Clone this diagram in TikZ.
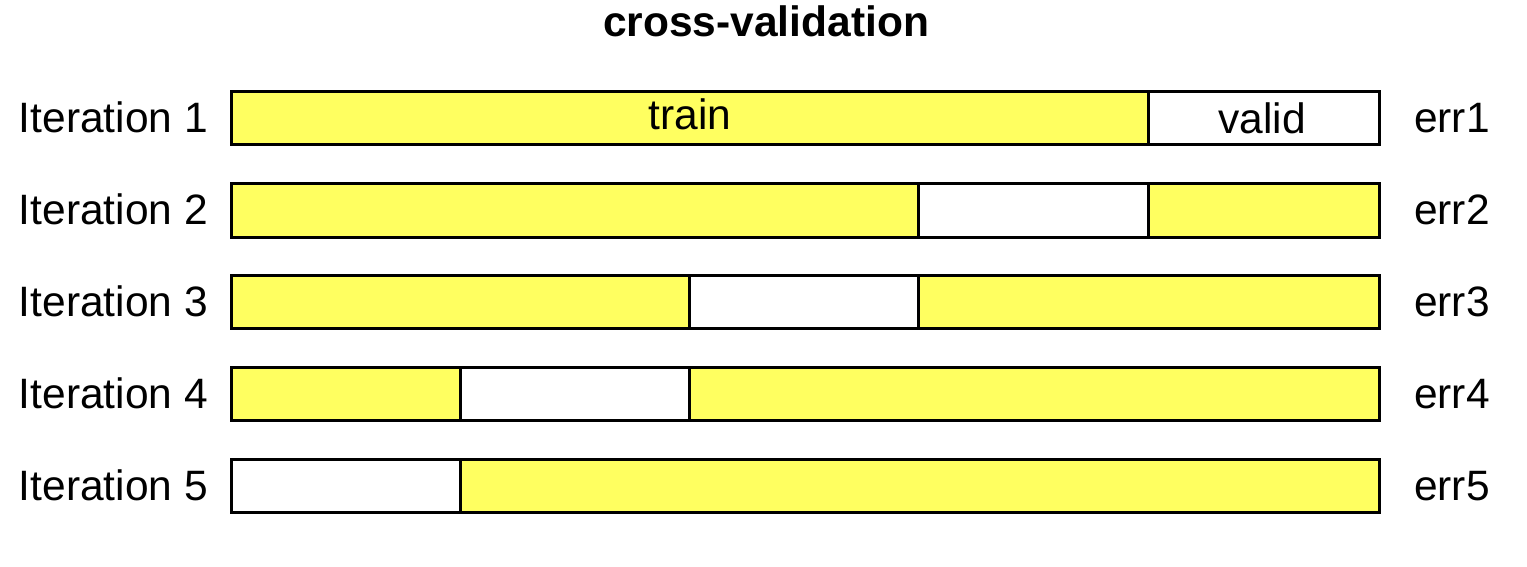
\documentclass[tikz,border=0pt]{standalone}
\usepackage{fontspec}
\setmainfont{Liberation Sans}
\definecolor{trainyellow}{RGB}{255,255,96}
\begin{document}
\begin{tikzpicture}[x=1pt,y=-1pt,
  seg/.style={draw=black,line width=3pt},
  trainseg/.style={seg,fill=trainyellow},
  validseg/.style={seg,fill=white},
  lbl/.style={font=\fontsize{42.5}{50}\selectfont,inner sep=0pt,anchor=base east},
  errlbl/.style={font=\fontsize{42.5}{50}\selectfont,inner sep=0pt,anchor=base west},
  segtxt/.style={font=\fontsize{42.5}{50}\selectfont,inner sep=0pt,anchor=base}]
\useasboundingbox (0,0) rectangle (1527,567);
\node[font=\bfseries\fontsize{42.5}{50}\selectfont,inner sep=0pt,anchor=base] (title) at (766,37) {cross-validation};
% boundaries: 231,460,689,918,1148,1379
\def\xa{231}\def\xb{460}\def\xc{689}\def\xd{918}\def\xe{1148}\def\xf{1379}
% Row 1
\path[trainseg] (\xa,92) rectangle (\xe,145);
\path[validseg] (\xe,92) rectangle (\xf,145);
% Row 2
\path[trainseg] (\xa,184) rectangle (\xd,237);
\path[validseg] (\xd,184) rectangle (\xe,237);
\path[trainseg] (\xe,184) rectangle (\xf,237);
% Row 3
\path[trainseg] (\xa,275) rectangle (\xc,328);
\path[validseg] (\xc,275) rectangle (\xd,328);
\path[trainseg] (\xd,275) rectangle (\xf,328);
% Row 4
\path[trainseg] (\xa,367) rectangle (\xb,420);
\path[validseg] (\xb,367) rectangle (\xc,420);
\path[trainseg] (\xc,367) rectangle (\xf,420);
% Row 5
\path[validseg] (\xa,459) rectangle (\xb,512);
\path[trainseg] (\xb,459) rectangle (\xf,512);
% segment texts
\node[segtxt] (train) at (690,130) {train};
\node[segtxt] (valid) at (1262,134) {valid};
% labels
\foreach \i/\y in {1/133,2/225,3/316,4/408,5/500}{
  \node[lbl] (it\i) at (208,\y) {Iteration \i};
  \node[errlbl] (err\i) at (1414,\y) {err\i};
}
\end{tikzpicture}
\end{document}
